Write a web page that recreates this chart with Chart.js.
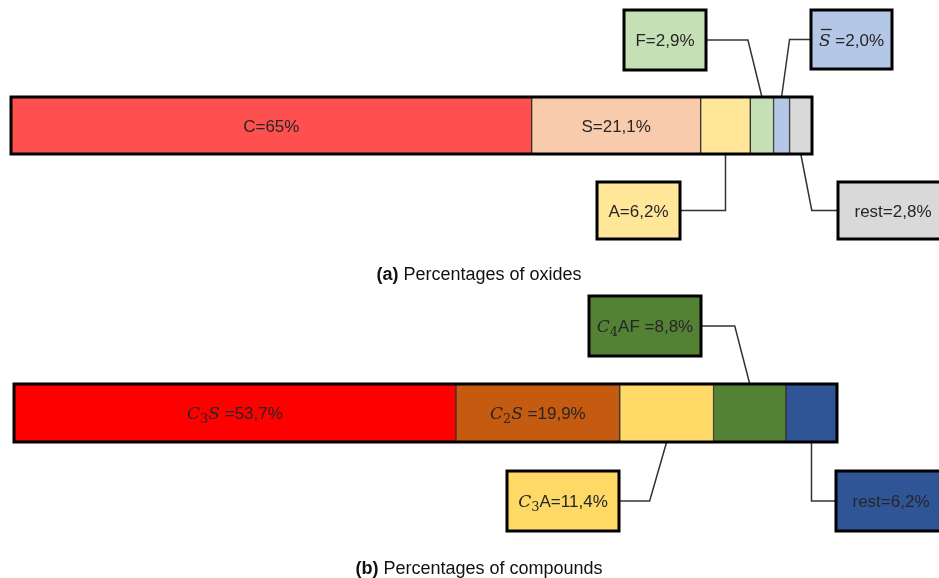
<!DOCTYPE html>
<html>
<head>
<meta charset="utf-8">
<script src="https://cdn.jsdelivr.net/npm/chart.js@4.4.1/dist/chart.umd.min.js"></script>
<style>
  html, body { margin: 0; padding: 0; background: #fff; }
  #wrap { position: relative; width: 939px; height: 578px; overflow: hidden; }
  canvas { position: absolute; left: 0; top: 0; }
  .cap { position: absolute; left: 0; width: 958px; text-align: center;
         font: 18px/21px "Liberation Sans", Arial, sans-serif; color: #111; }
</style>
</head>
<body>
<div id="wrap">
  <canvas id="oxides" width="939" height="578"></canvas>
  <canvas id="compounds" width="939" height="578"></canvas>
  <div class="cap" style="top:264px"><b>(a)</b> Percentages of oxides</div>
  <div class="cap" style="top:558px"><b>(b)</b> Percentages of compounds</div>
</div>
<script>
// --- data ---
const oxideLabels  = ['C', 'S', 'A', 'F', 'S\u0305', 'rest'];
const oxideValues  = [65, 21.1, 6.2, 2.9, 2.0, 2.8];
const oxideDigits  = [0, 1, 1, 1, 1, 1];
const oxideColors  = ['#ff5050', '#f8cbad', '#ffe699', '#c5e0b4', '#b4c7e7', '#d9d9d9'];

const compoundLabels = ['C3S', 'C2S', 'C3A', 'C4AF', 'rest'];
const compoundValues = [53.7, 19.9, 11.4, 8.8, 6.2];
const compoundDigits = [1, 1, 1, 1, 1];
const compoundColors = ['#ff0000', '#c55a11', '#ffd966', '#548235', '#2f5597'];

// how each name is typeset: n = normal, i = italic, sub = subscript, bar = italic with overline
const oxideNames = [
  [['C', 'n']], [['S', 'n']], [['A', 'n']], [['F', 'n']],
  [['S', 'bar'], [' ', 'n']], [['rest', 'n']]
];
const compoundNames = [
  [['C', 'i'], ['3', 'sub'], ['S', 'i'], [' ', 'n']],
  [['C', 'i'], ['2', 'sub'], ['S', 'i'], [' ', 'n']],
  [['C', 'i'], ['3', 'sub'], ['A', 'n']],
  [['C', 'i'], ['4', 'sub'], ['AF ', 'n']],
  [['rest', 'n']]
];

const FONTS = {
  n:   '17px "Liberation Sans", Arial, sans-serif',
  i:   'italic 17px "DejaVu Serif", serif',
  bar: 'italic 17px "DejaVu Serif", serif',
  sub: '13px "DejaVu Serif", serif'
};
const TEXT = '#262626';

function textParts(names, values, digits, i) {
  const v = values[i].toFixed(digits[i]).replace('.', ',');
  return names[i].concat([['=' + v + '%', 'n']]);
}

function drawRich(ctx, parts, cx, cy) {
  ctx.textBaseline = 'alphabetic';
  ctx.textAlign = 'left';
  let total = 0;
  const widths = parts.map(([t, s]) => {
    ctx.font = FONTS[s];
    const w = ctx.measureText(t).width;
    total += w;
    return w;
  });
  let x = cx - total / 2;
  const base = cy + 6;
  parts.forEach(([t, s], k) => {
    ctx.font = FONTS[s];
    ctx.fillStyle = TEXT;
    const y = s === 'sub' ? base + 4 : base;
    ctx.fillText(t, x, y);
    if (s === 'bar') {
      ctx.beginPath();
      ctx.moveTo(x + 2, base - 16);
      ctx.lineTo(x + widths[k] + 1, base - 16);
      ctx.lineWidth = 1.3;
      ctx.strokeStyle = TEXT;
      ctx.stroke();
    }
    x += widths[k];
  });
}

const calloutPlugin = {
  id: 'callouts',
  afterDatasetsDraw(chart, args, opts) {
    const ctx = chart.ctx;
    const els = chart.getSortedVisibleDatasetMetas().map(m => m.data[0]);
    const first = els[0], last = els[els.length - 1];
    const top = first.y - first.height / 2;
    const bottom = first.y + first.height / 2;
    ctx.save();

    // leader lines
    opts.boxes.forEach(b => {
      const el = els[b.index];
      const ax = (el.base + el.x) / 2;
      const ay = b.below ? bottom : top;
      const ky = b.y + b.h / 2;
      const ex = b.edge === 'right' ? b.x + b.w : b.x;
      ctx.beginPath();
      ctx.moveTo(ax, ay);
      ctx.lineTo(ax + b.dx, ky);
      ctx.lineTo(ex, ky);
      ctx.lineWidth = 1.5;
      ctx.strokeStyle = '#333';
      ctx.stroke();
    });

    // thick frame round the whole bar
    ctx.lineWidth = 3;
    ctx.strokeStyle = '#000';
    ctx.strokeRect(first.base, top, last.x - first.base, bottom - top);

    // labels inside the bar
    opts.inside.forEach(i => {
      const el = els[i];
      drawRich(ctx, opts.text(i), (el.base + el.x) / 2, el.y);
    });

    // label boxes
    opts.boxes.forEach(b => {
      ctx.fillStyle = opts.colors[b.index];
      ctx.fillRect(b.x, b.y, b.w, b.h);
      ctx.lineWidth = 3;
      ctx.strokeStyle = '#000';
      ctx.strokeRect(b.x, b.y, b.w, b.h);
      drawRich(ctx, opts.text(b.index), b.x + b.w / 2, b.y + b.h / 2);
    });
    ctx.restore();
  }
};

function stackedBar(id, labels, values, colors, padding, callouts) {
  return new Chart(document.getElementById(id), {
    type: 'bar',
    data: {
      labels: [''],
      datasets: labels.map((l, i) => ({
        label: l,
        data: [values[i]],
        backgroundColor: colors[i],
        borderColor: '#333',
        borderWidth: 1,
        borderSkipped: false,
        categoryPercentage: 1,
        barPercentage: 1
      }))
    },
    options: {
      indexAxis: 'y',
      responsive: false,
      animation: false,
      events: [],
      layout: { padding },
      scales: {
        x: { stacked: true, min: 0, max: 100, display: false },
        y: { stacked: true, display: false }
      },
      plugins: {
        legend: { display: false },
        tooltip: { enabled: false },
        callouts
      }
    },
    plugins: [calloutPlugin]
  });
}

stackedBar('oxides', oxideLabels, oxideValues, oxideColors,
  { left: 11, right: 127, top: 97, bottom: 424 },
  {
    colors: oxideColors,
    text: i => textParts(oxideNames, oxideValues, oxideDigits, i),
    inside: [0, 1],
    boxes: [
      { index: 2, x: 597, y: 182, w: 83, h: 57, below: true,  dx: 0,   edge: 'right' },
      { index: 3, x: 624, y: 10,  w: 82, h: 60, below: false, dx: -14, edge: 'right' },
      { index: 4, x: 811, y: 10,  w: 81, h: 59, below: false, dx: 8,   edge: 'left' },
      { index: 5, x: 838, y: 182, w: 110, h: 57, below: true, dx: 11,  edge: 'left' }
    ]
  });

stackedBar('compounds', compoundLabels, compoundValues, compoundColors,
  { left: 14, right: 102, top: 384, bottom: 136 },
  {
    colors: compoundColors,
    text: i => textParts(compoundNames, compoundValues, compoundDigits, i),
    inside: [0, 1],
    boxes: [
      { index: 2, x: 507, y: 471, w: 112, h: 60, below: true,  dx: -17, edge: 'right' },
      { index: 3, x: 589, y: 296, w: 112, h: 60, below: false, dx: -15, edge: 'right' },
      { index: 4, x: 836, y: 471, w: 110, h: 60, below: true,  dx: 0,   edge: 'left' }
    ]
  });
</script>
</body>
</html>
